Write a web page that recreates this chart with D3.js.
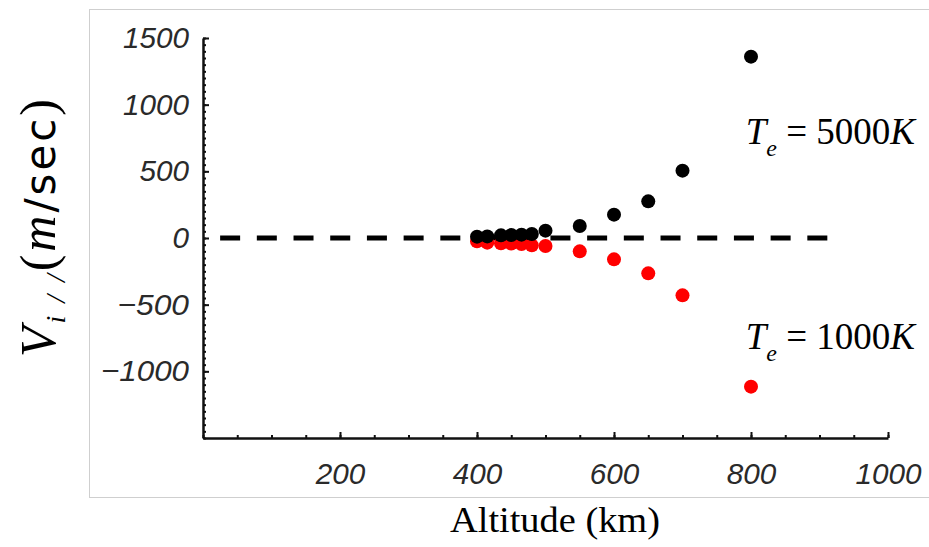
<!DOCTYPE html>
<html>
<head>
<meta charset="utf-8">
<script src="https://cdn.jsdelivr.net/npm/d3@7"></script>
<style>
  body { margin: 0; background: #fff; }
</style>
</head>
<body>
<div id="chart"></div>
<script>
// altitude of each sample (km)
const altitude = [400, 415, 435, 450, 465, 480, 500, 550, 600, 650, 700, 800];
// parallel ion velocity (m/sec), Te = 5000K
const vHot = [10, 12, 20, 22, 25, 30, 55, 90, 175, 275, 505, 1360];
// parallel ion velocity (m/sec), Te = 1000K
const vCold = [-25, -35, -40, -42, -45, -55, -60, -100, -160, -265, -430, -1115];

const xTicks = [200, 400, 600, 800, 1000];
const yTicks = [-1000, -500, 0, 500, 1000, 1500];
const zeroLine = [25, 935];   // altitude extent of the dashed zero line

var width = 929, height = 547;

var svg = d3.select("#chart")
  .append("svg")
    .attr("width", width)
    .attr("height", height);

svg.append("rect")
  .attr("width", width).attr("height", height)
  .attr("fill", "#fff");

// thin grey frame around the plot
svg.append("rect")
  .attr("x", 89.5).attr("y", 9.5)
  .attr("width", 860).attr("height", 488)
  .attr("fill", "none")
  .attr("stroke", "#cfcfcf")
  .attr("stroke-width", 1);

var x = d3.scaleLinear().domain([0, 1000]).range([203, 888]);
var y = d3.scaleLinear().domain([-1500, 1500]).range([438, 38]);

function fmt(d) { return (d < 0 ? "\u2212" : "") + Math.abs(d); }
function labelLen(d) {
  var s = String(Math.abs(d));
  return s.length * 16.5 + (d < 0 ? 22 : 0);
}

// minor ticks
svg.append("g")
  .attr("transform", "translate(" + x(0) + ",0)")
  .call(d3.axisLeft(y).tickValues(d3.range(-1500, 1501, 50)).tickSize(-3).tickFormat(""))
  .call(g => g.select(".domain").remove())
  .call(g => g.selectAll("line").attr("stroke", "#111").attr("stroke-width", 2));

svg.append("g")
  .attr("transform", "translate(0," + y(-1500) + ")")
  .call(d3.axisBottom(x).tickValues(d3.range(0, 1001, 50)).tickSize(-3).tickFormat(""))
  .call(g => g.select(".domain").remove())
  .call(g => g.selectAll("line").attr("stroke", "#111").attr("stroke-width", 2));

// Y axis
var yAxis = svg.append("g")
  .attr("transform", "translate(" + x(0) + ",0)")
  .call(d3.axisLeft(y).tickValues(yTicks).tickFormat(fmt).tickSizeInner(-6).tickSizeOuter(0).tickPadding(14));

// X axis
var xAxis = svg.append("g")
  .attr("transform", "translate(0," + y(-1500) + ")")
  .call(d3.axisBottom(x).tickValues(xTicks).tickFormat(fmt).tickSizeInner(-6).tickSizeOuter(0).tickPadding(25));

[yAxis, xAxis].forEach(function(g) {
  g.select(".domain").attr("stroke", "#111").attr("stroke-width", 2.5);
  g.selectAll(".tick line").attr("stroke", "#111").attr("stroke-width", 2);
  g.selectAll(".tick text")
    .attr("fill", "#2a2a2a")
    .attr("font-family", "Liberation Sans, Arial, sans-serif")
    .attr("font-style", "italic")
    .attr("font-size", "30px")
    .attr("textLength", function(d) { return labelLen(d); })
    .attr("lengthAdjust", "spacingAndGlyphs");
});

// dashed zero line
svg.append("line")
  .attr("x1", x(zeroLine[0])).attr("x2", x(zeroLine[1]))
  .attr("y1", y(0)).attr("y2", y(0))
  .attr("stroke", "#000")
  .attr("stroke-width", 5)
  .attr("stroke-dasharray", "20,16.7");

// points: Te = 1000K (red) under Te = 5000K (black)
svg.append("g").selectAll("circle")
  .data(altitude)
  .join("circle")
    .attr("cx", function(d) { return x(d); })
    .attr("cy", function(d, i) { return y(vCold[i]); })
    .attr("r", 7)
    .attr("fill", "#ff0000");

svg.append("g").selectAll("circle")
  .data(altitude)
  .join("circle")
    .attr("cx", function(d) { return x(d); })
    .attr("cy", function(d, i) { return y(vHot[i]); })
    .attr("r", 7)
    .attr("fill", "#000");

// annotations
function tempLabel(yy, value) {
  var t = svg.append("text")
    .attr("x", 915).attr("y", yy)
    .attr("text-anchor", "end")
    .attr("font-family", "Liberation Serif, Times New Roman, serif")
    .attr("font-size", "37px")
    .attr("fill", "#000");
  t.append("tspan").attr("font-style", "italic").text("T");
  t.append("tspan").attr("font-style", "italic").attr("font-size", "24px").attr("dy", 12).text("e");
  t.append("tspan").attr("dy", -12).text(" = " + value);
  t.append("tspan").attr("font-style", "italic").text("K");
}
tempLabel(144, "5000");
tempLabel(349, "1000");

// Etiqueta del eje X
svg.append("text")
  .attr("x", 555).attr("y", 532)
  .attr("text-anchor", "middle")
  .attr("font-family", "Liberation Serif, Times New Roman, serif")
  .attr("font-size", "36px")
  .attr("textLength", 210)
  .attr("lengthAdjust", "spacingAndGlyphs")
  .text("Altitude (km)");

// Etiqueta del eje Y
var yl = svg.append("text")
  .attr("transform", "translate(55,228) rotate(-90)")
  .attr("text-anchor", "middle")
  .attr("font-family", "Liberation Serif, Times New Roman, serif")
  .attr("font-size", "50px")
  .attr("textLength", 258)
  .attr("lengthAdjust", "spacing")
  .attr("fill", "#000");
yl.append("tspan").attr("font-style", "italic").text("V");
yl.append("tspan").attr("font-style", "italic").attr("font-size", "28px").attr("dy", 10).text("i / /");
yl.append("tspan").attr("dy", -10).text("(");
yl.append("tspan").attr("font-style", "italic").text("m");
yl.append("tspan").attr("font-family", "DejaVu Sans, sans-serif").attr("font-size", "42px").text("/sec");
yl.append("tspan").text(")");
</script>
</body>
</html>
